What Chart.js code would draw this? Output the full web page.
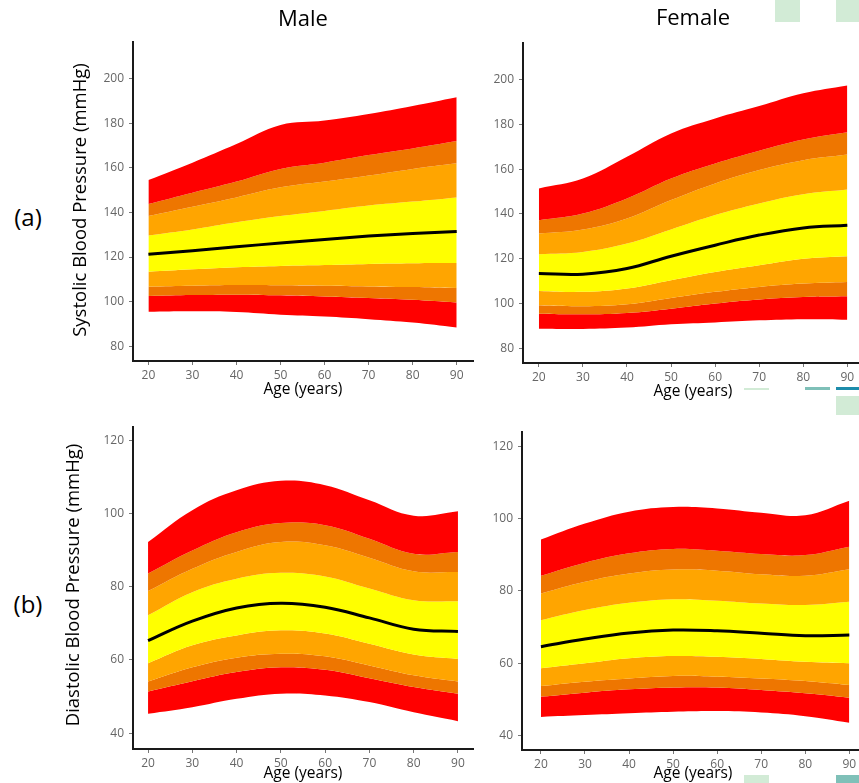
<!DOCTYPE html>
<html><head><meta charset="utf-8">
<script src="https://cdn.jsdelivr.net/npm/chart.js@4/dist/chart.umd.min.js"></script>
<style>
html,body{margin:0;padding:0;background:#fff;width:859px;height:783px;overflow:hidden;position:relative;font-family:"Open Sans",sans-serif;}
canvas{position:absolute;}
.t{position:absolute;color:#000;white-space:nowrap;transform:translate(-50%,-50%);line-height:1;}
.rot{transform:translate(-50%,-50%) rotate(-90deg);}
.blk{position:absolute;}
</style></head><body>
<script>
// ---- data ----
const ages = [20, 30, 40, 50, 60, 70, 80, 90];
const xTicks = [20, 30, 40, 50, 60, 70, 80, 90];
const sbpTicks = [80, 100, 120, 140, 160, 180, 200];
const dbpTicks = [40, 60, 80, 100, 120];

// Male systolic (top boundary -> bottom boundary, plus median)
const mSbpU4 = [154.6, 162.4, 170.8, 179.3, 181.3, 184.3, 187.9, 191.8];
const mSbpU3 = [143.8, 148.9, 153.9, 159.6, 162.4, 165.8, 168.8, 172.1];
const mSbpU2 = [138.4, 142.6, 146.8, 151.3, 153.9, 156.6, 159.6, 162.1];
const mSbpU1 = [129.7, 132.4, 135.6, 138.4, 140.7, 143.1, 144.9, 146.8];
const mSbpMed = [121.3, 122.8, 124.6, 126.3, 127.9, 129.4, 130.6, 131.5];
const mSbpL1 = [113.4, 114.5, 115.4, 116.0, 116.4, 116.9, 117.2, 117.3];
const mSbpL2 = [106.7, 107.1, 107.4, 107.3, 107.1, 106.8, 106.5, 106.1];
const mSbpL3 = [102.5, 102.9, 103.1, 102.8, 102.3, 101.6, 100.8, 99.6];
const mSbpL4 = [95.4, 95.6, 95.3, 94.1, 93.3, 92.1, 90.6, 88.4];

// Female systolic
const fSbpU4 = [151.4, 155.8, 165.5, 175.9, 182.6, 188.1, 193.8, 197.3];
const fSbpU3 = [137.2, 140.2, 146.9, 155.8, 162.5, 168.2, 173.2, 176.4];
const fSbpU2 = [131.3, 133.1, 138.0, 146.2, 153.6, 159.6, 164.0, 166.5];
const fSbpU1 = [122.1, 123.1, 126.8, 133.1, 139.5, 144.7, 148.8, 150.9];
const fSbpMed = [113.5, 113.2, 115.7, 121.2, 126.1, 130.6, 133.8, 135.0];
const fSbpL1 = [105.7, 105.3, 106.8, 110.5, 114.2, 117.2, 120.1, 121.2];
const fSbpL2 = [99.3, 98.9, 99.8, 102.6, 105.3, 107.5, 109.0, 109.7];
const fSbpL3 = [95.6, 95.3, 95.9, 97.8, 100.1, 101.9, 103.0, 103.3];
const fSbpL4 = [88.9, 88.8, 89.4, 90.9, 91.7, 92.6, 93.1, 92.9];

// Male diastolic
const mDbpU4 = [92.2, 100.9, 106.3, 108.9, 107.7, 103.6, 99.4, 100.6];
const mDbpU3 = [83.6, 89.9, 94.9, 97.4, 96.8, 93.1, 89.0, 89.5];
const mDbpU2 = [78.8, 84.9, 89.5, 92.2, 91.3, 87.9, 84.2, 84.0];
const mDbpU1 = [72.2, 78.5, 82.2, 83.8, 82.8, 79.5, 76.3, 76.0];
const mDbpMed = [65.3, 70.6, 74.2, 75.5, 74.4, 71.5, 68.4, 67.8];
const mDbpL1 = [59.1, 64.0, 66.7, 68.1, 67.2, 64.4, 61.5, 60.3];
const mDbpL2 = [54.1, 58.0, 60.6, 61.7, 61.0, 58.5, 55.8, 54.1];
const mDbpL3 = [51.4, 54.2, 56.7, 58.0, 57.3, 55.0, 52.6, 50.8];
const mDbpL4 = [45.3, 47.1, 49.4, 50.8, 50.3, 48.5, 45.7, 43.3];

// Female diastolic
const fDbpU4 = [94.2, 98.6, 101.9, 103.2, 102.8, 101.6, 100.9, 104.9];
const fDbpU3 = [84.2, 87.8, 90.4, 91.6, 91.1, 90.2, 89.9, 92.2];
const fDbpU2 = [79.3, 82.5, 84.8, 85.9, 85.6, 84.6, 84.2, 86.0];
const fDbpU1 = [71.9, 74.7, 76.7, 77.7, 77.3, 76.5, 76.1, 77.0];
const fDbpMed = [64.6, 66.7, 68.4, 69.2, 69.0, 68.3, 67.6, 67.8];
const fDbpL1 = [58.6, 60.0, 61.4, 62.0, 61.8, 61.2, 60.4, 60.0];
const fDbpL2 = [53.7, 54.9, 55.8, 56.5, 56.3, 55.8, 55.1, 54.0];
const fDbpL3 = [50.8, 51.9, 52.8, 53.3, 53.3, 52.6, 51.7, 50.5];
const fDbpL4 = [45.2, 45.7, 46.2, 46.6, 46.8, 46.4, 45.4, 43.6];

// ---- styling / layout ----
const bandColors = ['#FF0000', '#EE7600', '#FFA500', '#FFFF00', '#FFA500', '#EE7600', '#FF0000'];
const YW = 44, XH = 24, PAD = 14;

function pts(arr) { return ages.map((a, i) => ({ x: a, y: arr[i] })); }

function makePanel(area, xr, yr, yTicks, curves, median) {
  const c = document.createElement('canvas');
  const left = area.l - YW, top = area.t - PAD;
  const w = Math.round(area.r + PAD - left), h = Math.round(area.b + XH - top);
  c.width = w; c.height = h;
  c.style.left = left + 'px'; c.style.top = top + 'px';
  c.style.width = w + 'px'; c.style.height = h + 'px';
  document.body.appendChild(c);
  const ds = curves.map((cv, i) => ({
    data: pts(cv), fill: i < curves.length - 1 ? '+1' : false,
    backgroundColor: bandColors[i] || 'transparent', borderWidth: 0, pointRadius: 0,
    tension: 0.4
  }));
  ds.push({ data: pts(median), fill: false, borderColor: '#000', borderWidth: 3, pointRadius: 0,
    tension: 0.4 });
  const tickFont = { family: '"Open Sans", sans-serif', size: 12 };
  new Chart(c, {
    type: 'line',
    data: { datasets: ds },
    options: {
      responsive: false, animation: false, devicePixelRatio: 1,
      layout: { padding: { top: PAD, right: PAD, left: 0, bottom: 0 } },
      plugins: { legend: { display: false }, tooltip: { enabled: false }, filler: { drawTime: 'beforeDatasetsDraw' } },
      scales: {
        x: {
          type: 'linear', min: xr[0], max: xr[1],
          afterBuildTicks: s => { s.ticks = xTicks.map(v => ({ value: v })); },
          afterFit: s => { s.height = XH; },
          ticks: { color: '#666', font: tickFont, padding: 3, maxRotation: 0, autoSkip: false },
          grid: { display: true, drawOnChartArea: false, drawTicks: true, tickLength: 4, color: '#777' },
          border: { display: true, color: '#1a1a1a', width: 2 }
        },
        y: {
          type: 'linear', min: yr[0], max: yr[1],
          afterBuildTicks: s => { s.ticks = yTicks.map(v => ({ value: v })); },
          afterFit: s => { s.width = YW; },
          ticks: { color: '#666', font: tickFont, padding: 5, autoSkip: false },
          grid: { display: true, drawOnChartArea: false, drawTicks: true, tickLength: 4, color: '#777' },
          border: { display: true, color: '#1a1a1a', width: 2 }
        }
      }
    }
  });
}

makePanel({ l: 133, t: 42, r: 473, b: 361 }, [16.5, 93.7], [73.3, 216.6], sbpTicks,
  [mSbpU4, mSbpU3, mSbpU2, mSbpU1, mSbpL1, mSbpL2, mSbpL3, mSbpL4], mSbpMed);
makePanel({ l: 523, t: 43, r: 859, b: 362.7 }, [16.4, 92.65], [73.6, 216.2], sbpTicks,
  [fSbpU4, fSbpU3, fSbpU2, fSbpU1, fSbpL1, fSbpL2, fSbpL3, fSbpL4], fSbpMed);
makePanel({ l: 132.7, t: 426.7, r: 472.7, b: 748.3 }, [16.6, 93.4], [35.7, 123.6], dbpTicks,
  [mDbpU4, mDbpU3, mDbpU2, mDbpU1, mDbpL1, mDbpL2, mDbpL3, mDbpL4], mDbpMed);
makePanel({ l: 522, t: 431.7, r: 859, b: 750 }, [15.7, 92.2], [36.05, 123.9], dbpTicks,
  [fDbpU4, fDbpU3, fDbpU2, fDbpU1, fDbpL1, fDbpL2, fDbpL3, fDbpL4], fDbpMed);

// ---- text ----
function txt(s, x, y, size, cls) {
  const d = document.createElement('div');
  d.className = 't' + (cls ? ' ' + cls : '');
  d.textContent = s; d.style.left = x + 'px'; d.style.top = y + 'px'; d.style.fontSize = size + 'px';
  document.body.appendChild(d);
}
txt('Male', 303, 17, 22);
txt('Female', 693, 16, 22);
txt('(a)', 28, 217, 24);
txt('(b)', 28, 604, 24);
txt('Systolic Blood Pressure (mmHg)', 79, 200, 18.5, 'rot');
txt('Diastolic Blood Pressure (mmHg)', 72, 585, 18.5, 'rot');
txt('Age (years)', 303, 389, 15.5);
txt('Age (years)', 693, 391, 15.5);
txt('Age (years)', 303, 773, 15.5);
txt('Age (years)', 693, 773, 15.5);

// ---- cropped decorations at the right edge ----
function blk(x, y, w, h, col) {
  const d = document.createElement('div'); d.className = 'blk';
  Object.assign(d.style, { left: x + 'px', top: y + 'px', width: w + 'px', height: h + 'px', background: col });
  document.body.appendChild(d);
}
blk(775, 0, 25, 22, '#d2ebd6');
blk(836, 0, 23, 22, '#d2ebd6');
blk(744, 388, 25, 2, '#d2ebd6');
blk(805, 387, 25, 3, '#7fc0b8');
blk(836, 387, 23, 3, '#1d8cab');
blk(836, 396, 23, 19, '#d2ebd6');
blk(744, 775, 25, 8, '#d2ebd6');
blk(836, 775, 23, 8, '#7fc0b8');
</script>
</body></html>
